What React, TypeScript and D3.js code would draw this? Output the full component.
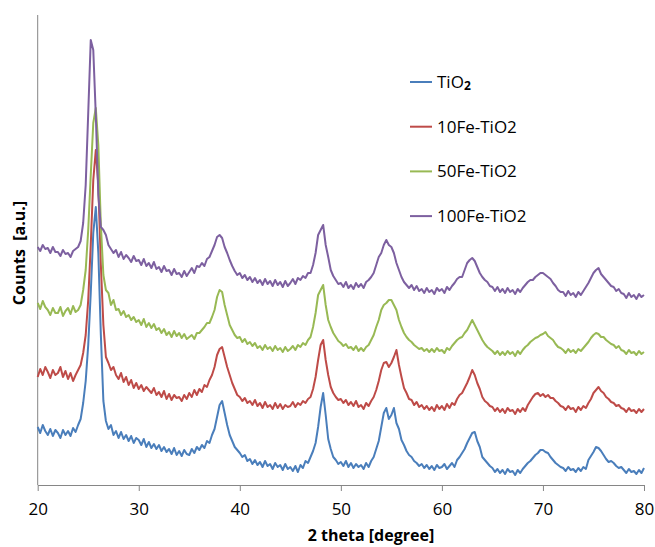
import React, { useEffect, useRef } from 'react';
import * as d3 from 'd3';

// sampling grid of the scans (degrees 2 theta)
const START_ANGLE = 20;
const STEP = 0.25;

const xTicks = [20, 30, 40, 50, 60, 70, 80];
const seriesNames = ['TiO₂', '10Fe-TiO2', '50Fe-TiO2', '100Fe-TiO2'];
const seriesColors = ['#4A7EBB', '#BE4B48', '#98B954', '#7D60A0'];

// counts (a.u., stacked as plotted), one value every 0.25 deg from 20 to 80
const tio2 = [
  58, 52, 60, 54, 50, 56, 49, 55, 52, 47, 55, 50, 54, 49, 57, 53,
  60, 66, 82, 104, 140, 192, 252, 278, 232, 150, 84, 64, 56, 60, 50, 54,
  47, 53, 46, 50, 44, 49, 42, 47, 45, 40, 46, 38, 43, 37, 41, 36,
  40, 34, 38, 33, 36, 31, 37, 30, 34, 29, 35, 31, 30, 36, 32, 38,
  35, 40, 37, 44, 42, 50, 56, 68, 80, 84, 72, 60, 50, 44, 38, 35,
  32, 28, 30, 24, 26, 21, 25, 20, 23, 18, 24, 19, 21, 16, 22, 18,
  20, 15, 21, 16, 18, 14, 19, 13, 20, 17, 24, 22, 28, 34, 42, 58,
  78, 92, 70, 46, 36, 28, 25, 21, 23, 19, 24, 18, 22, 17, 21, 18,
  20, 16, 22, 18, 24, 28, 36, 44, 58, 72, 77, 66, 70, 77, 62, 56,
  45, 40, 34, 30, 28, 24, 22, 19, 21, 17, 20, 16, 19, 15, 20, 17,
  18, 21, 16, 19, 22, 18, 25, 28, 32, 36, 42, 47, 52, 53, 44, 38,
  28, 25, 22, 19, 17, 13, 16, 12, 15, 11, 16, 13, 14, 10, 15, 12,
  16, 19, 22, 24, 27, 30, 32, 35, 35, 33, 32, 28, 25, 22, 20, 18,
  17, 14, 18, 15, 16, 13, 17, 14, 18, 16, 25, 29, 33, 38, 37, 34,
  30, 26, 23, 24, 22, 19, 17, 18, 15, 12, 16, 13, 14, 11, 15, 12,
  17,
];

const fe10 = [
  108, 116, 110, 118, 113, 107, 115, 110, 112, 118, 108, 114, 106, 112, 104, 110,
  115, 120, 132, 150, 185, 240, 305, 335, 300, 220, 160, 128, 122, 115, 118, 110,
  106, 112, 103, 108, 100, 105, 97, 102, 96, 100, 94, 98, 95, 92, 97, 90,
  93, 88, 94, 86, 91, 85, 90, 87, 88, 84, 90, 86, 92, 88, 95, 90,
  96, 93, 100, 98, 105, 110, 118, 130, 136, 138, 128, 118, 110, 102, 96, 90,
  88, 84, 87, 82, 84, 80, 85, 79, 82, 77, 83, 78, 80, 76, 82, 77,
  81, 76, 80, 78, 79, 83, 78, 82, 80, 84, 82, 86, 88, 96, 108, 125,
  140, 145, 125, 110, 98, 92, 88, 85, 86, 82, 85, 80, 83, 79, 84, 78,
  80, 76, 82, 79, 84, 88, 95, 104, 115, 122, 123, 118, 122, 128, 135, 120,
  108, 97, 92, 86, 85, 80, 83, 78, 80, 76, 79, 75, 78, 74, 80, 76,
  79, 75, 81, 77, 82, 80, 86, 90, 92, 97, 102, 108, 115, 110, 102, 96,
  88, 84, 82, 79, 78, 74, 77, 73, 76, 72, 77, 74, 75, 71, 76, 73,
  77, 74, 80, 84, 88, 91, 92, 89, 91, 88, 90, 87, 87, 84, 82, 79,
  78, 75, 79, 76, 77, 73, 78, 75, 79, 77, 82, 86, 92, 95, 98, 94,
  92, 88, 86, 83, 82, 79, 80, 77, 76, 73, 77, 74, 75, 72, 76, 73,
  76,
];

const fe50 = [
  182, 176, 184, 178, 175, 170, 177, 172, 172, 178, 169, 174, 177, 171, 179, 173,
  175, 180, 195, 215, 255, 310, 362, 377, 340, 260, 210, 195, 192, 180, 185, 175,
  176, 170, 174, 168, 170, 165, 168, 163, 165, 160, 166, 158, 162, 157, 161, 155,
  157, 152, 156, 150, 153, 148, 154, 149, 152, 147, 151, 146, 148, 150, 146, 152,
  152, 155, 158, 162, 162, 168, 175, 188, 195, 193, 180, 170, 160, 155, 150, 147,
  148, 143, 146, 141, 143, 139, 142, 137, 139, 135, 140, 136, 138, 134, 139, 135,
  137, 133, 138, 134, 136, 139, 135, 140, 138, 142, 140, 145, 148, 158, 172, 190,
  195, 200, 180, 165, 158, 152, 148, 144, 142, 139, 141, 137, 138, 135, 139, 134,
  137, 134, 138, 140, 145, 150, 158, 165, 175, 180, 182, 185, 185, 180, 175, 165,
  158, 152, 148, 145, 143, 140, 138, 136, 137, 134, 136, 133, 136, 133, 137, 134,
  135, 132, 137, 135, 139, 142, 145, 147, 148, 152, 155, 160, 165, 160, 155, 150,
  145, 141, 138, 136, 134, 131, 134, 130, 133, 130, 134, 131, 133, 129, 134, 131,
  135, 138, 140, 143, 145, 147, 148, 150, 151, 153, 149, 147, 145, 141, 138, 137,
  135, 132, 136, 133, 135, 132, 136, 134, 137, 140, 143, 147, 150, 152, 151, 148,
  148, 145, 143, 141, 140, 137, 139, 135, 134, 131, 135, 132, 133, 130, 134, 131,
  133,
];

const fe100 = [
  238, 234, 240, 236, 237, 232, 238, 233, 233, 229, 235, 231, 232, 228, 234, 236,
  238, 244, 262, 300, 372, 445, 435, 370, 290, 258, 255, 250, 240, 236, 232, 235,
  228, 233, 226, 230, 227, 223, 229, 224, 225, 220, 226, 219, 222, 217, 223, 216,
  218, 213, 219, 214, 215, 210, 216, 211, 212, 208, 214, 209, 213, 217, 212, 219,
  218, 222, 219, 226, 228, 234, 240, 248, 250, 247, 238, 232, 225, 219, 214, 210,
  212, 207, 210, 205, 208, 203, 207, 202, 205, 200, 206, 201, 204, 199, 205, 200,
  203, 198, 204, 199, 202, 206, 201, 207, 205, 209, 207, 212, 212, 220, 232, 250,
  255, 260, 240, 228, 215, 209, 205, 201, 202, 198, 203, 197, 200, 196, 202, 198,
  201, 197, 203, 205, 208, 212, 220, 228, 232, 240, 245, 240, 238, 232, 222, 215,
  208, 203, 200, 197, 200, 195, 199, 194, 196, 192, 197, 193, 195, 191, 197, 194,
  196, 192, 198, 195, 199, 202, 206, 208, 208, 215, 222, 225, 227, 224, 218, 212,
  208, 205, 203, 199, 198, 194, 198, 193, 196, 192, 197, 193, 195, 191, 196, 193,
  197, 200, 203, 205, 205, 208, 210, 212, 212, 210, 208, 206, 202, 199, 195, 193,
  193, 189, 194, 190, 192, 188, 193, 190, 194, 198, 202, 207, 212, 215, 217, 211,
  208, 205, 202, 199, 198, 194, 196, 192, 191, 187, 192, 188, 190, 186, 191, 188,
  190,
];

const allSeries = [tio2, fe10, fe50, fe100];

function App() {
  return (
    <div>
      <XrdChart />
    </div>
  );
}

function XrdChart() {
  const container = useRef<HTMLDivElement>(null);

  useEffect(() => {
    document.body.style.margin = '0';
    if (!container.current) return;

    const width = 655;
    const height = 547;
    const left = 37.7;
    const right = 644;
    const top = 15;
    const bottom = 485;
    const font = '"Open Sans", "DejaVu Sans", sans-serif';

    d3.select(container.current).select('svg').remove();

    const svg = d3.select(container.current)
      .append('svg')
      .attr('width', width)
      .attr('height', height)
      .style('display', 'block')
      .style('background', '#fff');

    const x = d3.scaleLinear().domain([20, 80]).range([left, right]);
    const y = d3.scaleLinear().domain([0, 470]).range([bottom, top]);

    // axes
    const xAxis = svg.append('g')
      .attr('transform', `translate(0,${bottom})`)
      .call(d3.axisBottom(x).tickValues(xTicks).tickSize(6).tickPadding(12).tickSizeOuter(0));
    xAxis.select('.domain').attr('stroke', '#868686');
    xAxis.selectAll('.tick line').attr('stroke', '#868686');
    xAxis.selectAll('.tick text')
      .attr('font-family', font)
      .attr('font-size', 17)
      .attr('fill', '#000');

    svg.append('line')
      .attr('x1', left).attr('x2', left)
      .attr('y1', top).attr('y2', bottom)
      .attr('stroke', '#868686');

    // series
    const line = d3.line<number>()
      .x((_, i) => x(START_ANGLE + i * STEP))
      .y(d => y(d));

    allSeries.forEach((values, i) => {
      svg.append('path')
        .datum(values)
        .attr('d', line)
        .attr('fill', 'none')
        .attr('stroke', seriesColors[i])
        .attr('stroke-width', 2)
        .attr('stroke-linejoin', 'round');
    });

    // legend
    const legend = svg.append('g').attr('font-family', font).attr('font-size', 17);
    seriesNames.forEach((name, i) => {
      const cy = 82 + i * 44.7;
      legend.append('line')
        .attr('x1', 410).attr('x2', 432)
        .attr('y1', cy).attr('y2', cy)
        .attr('stroke', seriesColors[i])
        .attr('stroke-width', 2);
      const label = legend.append('text')
        .attr('x', 437)
        .attr('y', cy + 6)
        .attr('fill', '#000');
      if (name.includes('₂')) {
        label.append('tspan').text(name.replace('₂', ''));
        label.append('tspan').text('2').attr('font-size', 12).attr('font-weight', 'bold').attr('dy', 2);
      } else {
        label.text(name);
      }
    });

    // axis titles
    svg.append('text')
      .attr('x', 371)
      .attr('y', 541)
      .attr('text-anchor', 'middle')
      .attr('font-family', font)
      .attr('font-size', 16)
      .attr('font-weight', 'bold')
      .text('2 theta [degree]');

    svg.append('text')
      .attr('transform', 'translate(25,253) rotate(-90)')
      .attr('text-anchor', 'middle')
      .attr('font-family', font)
      .attr('font-size', 16)
      .attr('font-weight', 'bold')
      .style('white-space', 'pre')
      .text('Counts  [a.u.]');
  }, []);

  return <div ref={container} />;
}

export default App;
